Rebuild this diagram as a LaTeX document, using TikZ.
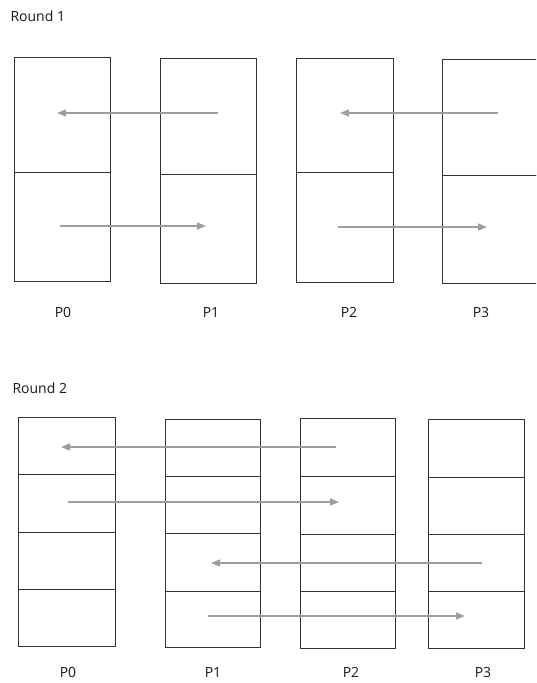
\documentclass[tikz,border=0pt]{standalone}
\usepackage{fontspec}
\setmainfont{Open Sans}
\usetikzlibrary{arrows.meta}
\begin{document}
\begin{tikzpicture}[x=1pt,y=-1pt,
  cell/.style={draw=black!80,line width=1.2pt,inner sep=0pt,anchor=north west},
  msg/.style={draw=black!38,line width=1.5pt,-{Triangle[length=9pt,width=7pt]}},
  lbl/.style={font=\fontsize{14}{16}\selectfont,text=black!90},
  ttl/.style={font=\fontsize{14}{16}\selectfont,text=black!90,anchor=west}]
\useasboundingbox (0,0) rectangle (536,683);
\clip (0,0) rectangle (536,683);
\fill[white] (0,0) rectangle (536,683);

% ---------- Round 1 ----------
\node[ttl] (t1) at (7,16) {Round 1};

\node[cell,minimum width=96pt,minimum height=115pt] (a0t) at (14,57) {};
\node[cell,minimum width=96pt,minimum height=109pt] (a0b) at (14,172) {};
\node[cell,minimum width=96pt,minimum height=116pt] (a1t) at (160,58) {};
\node[cell,minimum width=96pt,minimum height=109pt] (a1b) at (160,174) {};
\node[cell,minimum width=97pt,minimum height=114pt] (a2t) at (296,58) {};
\node[cell,minimum width=97pt,minimum height=110pt] (a2b) at (296,172) {};
\node[cell,minimum width=96pt,minimum height=116pt] (a3t) at (442,59) {};
\node[cell,minimum width=96pt,minimum height=108pt] (a3b) at (442,175) {};

\coordinate (r1s1) at (218,113); \coordinate (r1e1) at (57,113);
\coordinate (r1s2) at (60,226);  \coordinate (r1e2) at (206,226);
\coordinate (r1s3) at (498,113); \coordinate (r1e3) at (340,113);
\coordinate (r1s4) at (338,227); \coordinate (r1e4) at (487,227);
\draw[msg] (r1s1) -- (r1e1);
\draw[msg] (r1s2) -- (r1e2);
\draw[msg] (r1s3) -- (r1e3);
\draw[msg] (r1s4) -- (r1e4);

\node[lbl] (l10) at (63,312) {P0};
\node[lbl] (l11) at (211,312) {P1};
\node[lbl] (l12) at (349,312) {P2};
\node[lbl] (l13) at (481,312) {P3};

% ---------- Round 2 ----------
\node[ttl] (t2) at (9,388) {Round 2};

\node[cell,minimum width=97pt,minimum height=57pt] (b00) at (18,417) {};
\node[cell,minimum width=97pt,minimum height=58pt] (b01) at (18,474) {};
\node[cell,minimum width=97pt,minimum height=57pt] (b02) at (18,532) {};
\node[cell,minimum width=97pt,minimum height=57pt] (b03) at (18,589) {};

\node[cell,minimum width=95pt,minimum height=57pt] (b10) at (165,419) {};
\node[cell,minimum width=95pt,minimum height=57pt] (b11) at (165,476) {};
\node[cell,minimum width=95pt,minimum height=58pt] (b12) at (165,533) {};
\node[cell,minimum width=95pt,minimum height=56pt] (b13) at (165,591) {};

\node[cell,minimum width=95pt,minimum height=58pt] (b20) at (300,418) {};
\node[cell,minimum width=95pt,minimum height=58pt] (b21) at (300,476) {};
\node[cell,minimum width=95pt,minimum height=57pt] (b22) at (300,534) {};
\node[cell,minimum width=95pt,minimum height=57pt] (b23) at (300,591) {};

\node[cell,minimum width=96pt,minimum height=58pt] (b30) at (428,419) {};
\node[cell,minimum width=96pt,minimum height=57pt] (b31) at (428,477) {};
\node[cell,minimum width=96pt,minimum height=57pt] (b32) at (428,534) {};
\node[cell,minimum width=96pt,minimum height=57pt] (b33) at (428,591) {};

\coordinate (r2s1) at (336,447); \coordinate (r2e1) at (61,447);
\coordinate (r2s2) at (68,502);  \coordinate (r2e2) at (339,502);
\coordinate (r2s3) at (482,563); \coordinate (r2e3) at (211,563);
\coordinate (r2s4) at (208,616); \coordinate (r2e4) at (465,616);
\draw[msg] (r2s1) -- (r2e1);
\draw[msg] (r2s2) -- (r2e2);
\draw[msg] (r2s3) -- (r2e3);
\draw[msg] (r2s4) -- (r2e4);

\node[lbl] (l20) at (68,672) {P0};
\node[lbl] (l21) at (213,672) {P1};
\node[lbl] (l22) at (351,672) {P2};
\node[lbl] (l23) at (483,672) {P3};
\end{tikzpicture}
\end{document}
